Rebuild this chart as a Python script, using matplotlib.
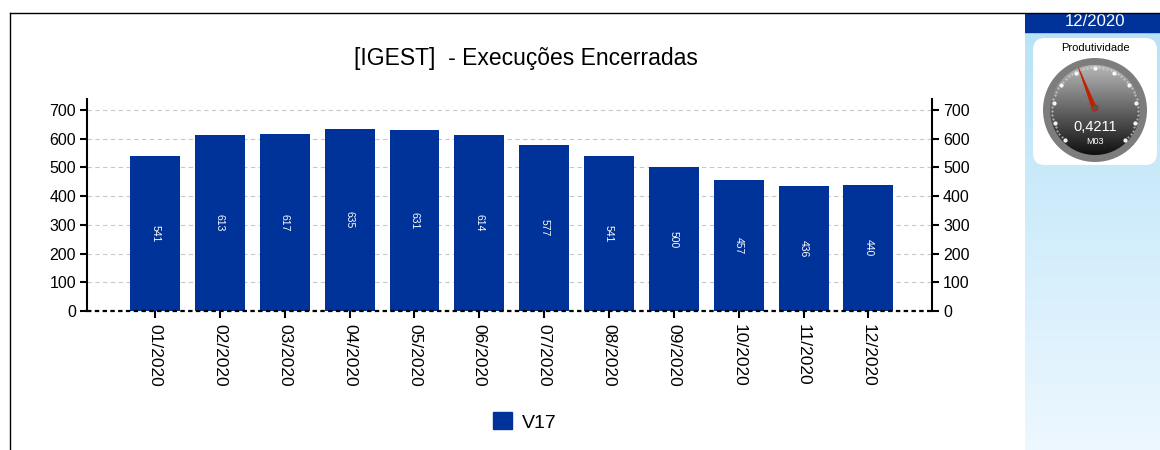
import numpy as np
import matplotlib
matplotlib.use("Agg")
import matplotlib.pyplot as plt
from matplotlib.patches import Circle, FancyBboxPatch, Rectangle, Polygon
from matplotlib.lines import Line2D

plt.rcParams['font.family'] = ['Liberation Sans', 'DejaVu Sans']

# data
months = ["01/2020", "02/2020", "03/2020", "04/2020", "05/2020", "06/2020",
          "07/2020", "08/2020", "09/2020", "10/2020", "11/2020", "12/2020"]
values = [541, 613, 617, 635, 631, 614, 577, 541, 500, 457, 436, 440]
series_name = "V17"
title = "[IGEST]  - Execuções Encerradas"
panel_month = "12/2020"
gauge_title = "Produtividade"
gauge_value = 0.4211
gauge_unit = "M03"

BLUE = "#003399"
W, H = 1160, 450

fig = plt.figure(figsize=(W / 100, H / 100), dpi=100)

# -------------------------------------
# main chart
# -------------------------------------
ax = fig.add_axes([87 / W, 1 - 311 / H, (932 - 87) / W, (311 - 99) / H])
x = np.arange(len(months))
bars = ax.bar(x, values, width=0.77, color=BLUE, zorder=2)
for xi, v in zip(x, values):
    ax.text(xi, v / 2, str(v), rotation=270, color="white", fontsize=7.5,
            ha="center", va="center", zorder=3)

ax.set_xlim(-1.05, 11.98)
ax.set_ylim(0, 738)
ax.set_yticks(range(0, 701, 100))
ax.set_xticks(x)
ax.set_xticklabels(months, rotation=270, fontsize=12.5)
ax.tick_params(axis="y", labelsize=11.5, length=5, width=1.5, direction="out",
               right=True, labelright=True, pad=3)
ax.tick_params(axis="x", length=5, width=1.5, pad=4)
ax.grid(axis="y", color="#c8c8c8", linestyle=(0, (4, 3)), linewidth=0.8, zorder=0)
ax.spines["top"].set_visible(False)
ax.spines["bottom"].set_visible(False)
ax.spines["left"].set_linewidth(1.5)
ax.spines["right"].set_linewidth(1.5)
ax.axhline(0, color="black", linestyle=(0, (2, 1.5)), linewidth=1.6, zorder=4,
           clip_on=False)

fig.text(526 / W, 1 - 58 / H, title, ha="center", va="center", fontsize=16.5)

# legend
leg = fig.legend([Rectangle((0, 0), 1, 1, color=BLUE)], [series_name],
                 loc="center", bbox_to_anchor=(525 / W, 1 - 422 / H),
                 frameon=False, fontsize=14, handlelength=0.95, handleheight=0.95,
                 handletextpad=0.55)

# frame lines of the main panel
fig.add_artist(Line2D([10 / W, 10 / W], [0, 1 - 13 / H], color="black", lw=1,
                      transform=fig.transFigure))
fig.add_artist(Line2D([10 / W, 1], [1 - 13 / H, 1 - 13 / H], color="black", lw=1,
                      transform=fig.transFigure))

# -------------------------------------
# side panel with gauge
# -------------------------------------
sx = fig.add_axes([1025 / W, 0, (W - 1025) / W, 1 - 14 / H])
sx.set_xlim(1025, W)
sx.set_ylim(H, 14)
sx.axis("off")
grad = np.linspace(0, 1, 256).reshape(-1, 1)
top_c = np.array([0.72, 0.89, 0.97])
bot_c = np.array([0.93, 0.97, 1.0])
img = top_c + (bot_c - top_c) * grad[..., None]
sx.imshow(img, extent=[1025, W, H, 32], aspect="auto", zorder=0)
sx.add_patch(Rectangle((1025, 14), W - 1025, 18, color=BLUE, zorder=1))
sx.text(1095, 22, panel_month, color="white", fontsize=12, ha="center",
        va="center", zorder=2)
sx.add_patch(FancyBboxPatch((1038, 43), 114, 117,
                            boxstyle="round,pad=5,rounding_size=12",
                            fc="white", ec="none", zorder=1))
sx.text(1095, 48, gauge_title, fontsize=8, ha="center", va="center", zorder=2)

cx, cy = 1095, 110
sx.add_patch(Circle((cx, cy), 52, fc="#7d7d7d", ec="none", zorder=2))
face = Circle((cx, cy), 45, fc="none", ec="none", zorder=3)
sx.add_patch(face)
fg = np.linspace(0, 1, 256).reshape(-1, 1)
fimg = (0.72 - 0.66 * fg)[..., None] * np.ones((1, 1, 3))
im = sx.imshow(fimg, extent=[cx - 45, cx + 45, cy + 45, cy - 45], aspect="auto",
               zorder=3)
im.set_clip_path(face)
# tick marks
for a in np.linspace(-135, 135, 11):
    r = np.radians(a)
    sx.plot(cx + 42 * np.sin(r), cy - 42 * np.cos(r), "o", ms=2.0,
            color="white", zorder=4)
for a in np.linspace(-135, 135, 51):
    r = np.radians(a)
    sx.plot(cx + 43 * np.sin(r), cy - 43 * np.cos(r), ".", ms=0.8,
            color="#dddddd", zorder=4)
# needle
ang = np.radians(-135 + 270 * gauge_value)
tip = (cx + 45 * np.sin(ang), cy - 45 * np.cos(ang))
nx, ny = np.cos(ang), np.sin(ang)
sx.add_patch(Polygon([(cx - 2.2 * nx, cy - 2.2 * ny), tip,
                      (cx + 2.2 * nx, cy + 2.2 * ny)],
                     fc="#c02000", ec="#c02000", lw=0.6, zorder=5))
sx.add_patch(Circle((cx, cy - 2), 3, fc="#555555", ec="#c02000", lw=0.6, zorder=6))
sx.text(cx, 127, f"{gauge_value:.4f}".replace(".", ","), color="white",
        fontsize=10.5, ha="center", va="center", zorder=6)
sx.text(cx, 142, gauge_unit, color="white", fontsize=6.5, ha="center",
        va="center", zorder=6)

fig.savefig("out.png", dpi=100)
